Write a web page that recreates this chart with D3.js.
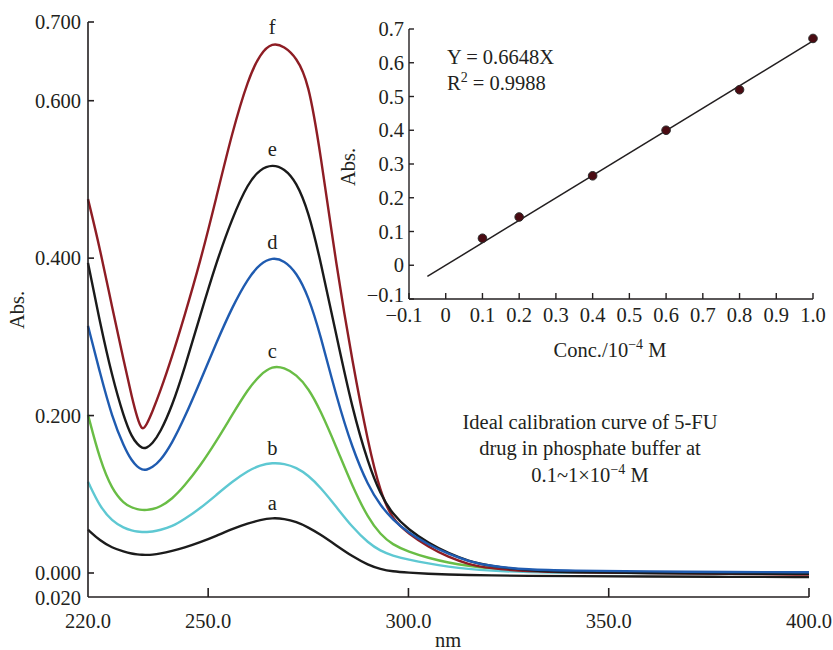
<!DOCTYPE html>
<html>
<head>
<meta charset="utf-8">
<script src="https://cdn.jsdelivr.net/npm/d3@7"></script>
<style>
  html, body { margin: 0; padding: 0; background: #fff; }
  svg text { font-family: "Liberation Serif", "Times New Roman", serif; fill: #231f20; }
</style>
</head>
<body>
<svg id="chart" width="833" height="650"></svg>
<script>
// ---------------- DATA ----------------
const wavelengths = [220, 223, 226, 229, 231, 232.3, 233.5, 234.7, 236, 238, 241, 244, 248, 252, 256, 260, 263, 266, 269, 272, 275, 278, 282, 286, 290, 293, 296, 300, 305, 310, 315, 320, 330, 340, 360, 380, 400];

const seriesA = [0.055, 0.041, 0.032, 0.027, 0.0245, 0.0235, 0.023, 0.023, 0.0232, 0.0245, 0.028, 0.032, 0.039, 0.047, 0.056, 0.063, 0.0675, 0.070, 0.069, 0.065, 0.058, 0.049, 0.035, 0.021, 0.010, 0.005, 0.002, 0.0005, -0.001, -0.002, -0.0027, -0.003, -0.0037, -0.004, -0.0045, -0.005, -0.005];
const seriesB = [0.116, 0.084, 0.066, 0.057, 0.054, 0.0525, 0.052, 0.052, 0.0525, 0.0545, 0.059, 0.068, 0.082, 0.099, 0.116, 0.130, 0.137, 0.140, 0.139, 0.134, 0.124, 0.109, 0.084, 0.058, 0.038, 0.028, 0.022, 0.017, 0.012, 0.008, 0.005, 0.003, 0.001, 0.000, 0.000, 0.000, 0.000];
const seriesC = [0.201, 0.143, 0.106, 0.088, 0.083, 0.081, 0.080, 0.080, 0.081, 0.084, 0.094, 0.110, 0.136, 0.167, 0.201, 0.234, 0.252, 0.263, 0.261, 0.252, 0.235, 0.207, 0.160, 0.110, 0.069, 0.049, 0.036, 0.027, 0.019, 0.013, 0.009, 0.006, 0.003, 0.001, 0.000, 0.000, 0.000];
const seriesD = [0.314, 0.254, 0.198, 0.160, 0.142, 0.135, 0.131, 0.131, 0.134, 0.142, 0.165, 0.196, 0.243, 0.292, 0.338, 0.375, 0.393, 0.401, 0.397, 0.382, 0.352, 0.303, 0.224, 0.158, 0.110, 0.086, 0.068, 0.051, 0.036, 0.024, 0.015, 0.009, 0.004, 0.003, 0.002, 0.001, 0.001];
const seriesE = [0.394, 0.318, 0.250, 0.197, 0.172, 0.164, 0.158, 0.159, 0.164, 0.178, 0.212, 0.258, 0.327, 0.394, 0.451, 0.496, 0.513, 0.519, 0.514, 0.497, 0.460, 0.398, 0.302, 0.208, 0.138, 0.100, 0.075, 0.055, 0.038, 0.025, 0.015, 0.009, 0.003, 0.001, 0.000, -0.001, -0.001];
const seriesF = [0.475, 0.412, 0.338, 0.268, 0.222, 0.197, 0.180, 0.189, 0.204, 0.230, 0.275, 0.325, 0.395, 0.476, 0.560, 0.628, 0.660, 0.674, 0.669, 0.655, 0.625, 0.535, 0.390, 0.268, 0.163, 0.102, 0.068, 0.050, 0.033, 0.020, 0.011, 0.006, 0.002, 0.001, 0.000, -0.001, -0.002];

const seriesNames = ["a", "b", "c", "d", "e", "f"];
const seriesColors = ["#1c1c1c", "#5ec8d2", "#69bd45", "#1f5bb0", "#1a1a1a", "#8e1d24"];
const drawOrder = [0, 2, 1, 5, 4, 3];

const xTickValues = [250, 300, 350, 400];
const xTickLabels = ["250.0", "300.0", "350.0", "400.0"];
const xStartLabel = "220.0";
const yTickValues = [0.7, 0.6, 0.4, 0.2, 0.0];
const yTickLabels = ["0.700", "0.600", "0.400", "0.200", "0.000"];
const yBottomLabel = "0.020";

// inset calibration data
const concValues = [0.1, 0.2, 0.4, 0.6, 0.8, 1.0];
const absValues = [0.080, 0.143, 0.265, 0.400, 0.520, 0.672];
const fitSlope = 0.6648;
const fitRange = [-0.05, 1.0];
const insetXTicks = [-0.1, 0, 0.1, 0.2, 0.3, 0.4, 0.5, 0.6, 0.7, 0.8, 0.9, 1.0];
const insetXLabels = ["\u22120.1", "0", "0.1", "0.2", "0.3", "0.4", "0.5", "0.6", "0.7", "0.8", "0.9", "1.0"];
const insetYTicks = [-0.1, 0, 0.1, 0.2, 0.3, 0.4, 0.5, 0.6, 0.7];
const insetYLabels = ["\u22120.1", "0", "0.1", "0.2", "0.3", "0.4", "0.5", "0.6", "0.7"];

// ---------------- DRAW ----------------
const svg = d3.select("#chart");
const FS = 20.5;
const SUP = 14;

const x = d3.scaleLinear().domain([220, 400]).range([88, 809]);
const y = d3.scaleLinear().domain([-0.0305, 0.7]).range([597, 22]);

const allSeries = [seriesA, seriesB, seriesC, seriesD, seriesE, seriesF];

const line = d3.line()
  .x(d => x(d[0]))
  .y(d => y(d[1]))
  .curve(d3.curveBasis);

drawOrder.forEach(i => {
  const vals = allSeries[i];
  const pts = wavelengths.map((w, j) => [w, vals[j]]);
  svg.append("path")
    .attr("d", line(pts))
    .attr("fill", "none")
    .attr("stroke", seriesColors[i])
    .attr("stroke-width", 2.4)
    .attr("stroke-linejoin", "round");
});
allSeries.forEach((vals, i) => {
  // label above the absorption peak
  let pk = wavelengths.indexOf(252);
  vals.forEach((v, j) => { if (wavelengths[j] > 250 && wavelengths[j] < 290 && v > vals[pk]) pk = j; });
  svg.append("text")
    .attr("x", x(wavelengths[pk]))
    .attr("y", y(vals[pk]) - 8)
    .attr("text-anchor", "middle")
    .attr("font-size", FS)
    .text(seriesNames[i]);
});

// main axes
const axG = svg.append("g").attr("stroke", "#231f20").attr("stroke-width", 1.6).attr("fill", "none");
axG.append("line").attr("x1", x(220)).attr("x2", x(220)).attr("y1", y(0.7)).attr("y2", y.range()[0]);
axG.append("line").attr("x1", x(220)).attr("x2", x(400)).attr("y1", y.range()[0]).attr("y2", y.range()[0]);
yTickValues.forEach(v => {
  axG.append("line").attr("x1", x(220)).attr("x2", x(220) + 6).attr("y1", y(v)).attr("y2", y(v));
});
xTickValues.forEach(v => {
  axG.append("line").attr("x1", x(v)).attr("x2", x(v)).attr("y1", y.range()[0]).attr("y2", y.range()[0] - 9);
});

yTickLabels.forEach((t, i) => {
  svg.append("text").attr("x", 81).attr("y", y(yTickValues[i])).attr("dy", "0.35em")
    .attr("text-anchor", "end").attr("font-size", FS).text(t);
});
svg.append("text").attr("x", 81).attr("y", y.range()[0] + 1).attr("dy", "0.35em")
  .attr("text-anchor", "end").attr("font-size", FS).text(yBottomLabel);
svg.append("text").attr("x", x(220)).attr("y", 628).attr("text-anchor", "middle").attr("font-size", FS).text(xStartLabel);
xTickLabels.forEach((t, i) => {
  svg.append("text").attr("x", x(xTickValues[i])).attr("y", 628).attr("text-anchor", "middle").attr("font-size", FS).text(t);
});
svg.append("text").attr("x", 448).attr("y", 647).attr("text-anchor", "middle").attr("font-size", FS).text("nm");
svg.append("text").attr("transform", "translate(24,310) rotate(-90)").attr("text-anchor", "middle").attr("font-size", FS).text("Abs.");

// annotation
const ann = svg.append("text").attr("text-anchor", "middle").attr("font-size", FS);
ann.append("tspan").attr("x", 590).attr("y", 429).text("Ideal calibration curve of 5-FU");
ann.append("tspan").attr("x", 590).attr("y", 455).text("drug in phosphate buffer at");
const l3 = ann.append("tspan").attr("x", 590).attr("y", 482);
l3.append("tspan").text("0.1~1\u00d710");
l3.append("tspan").attr("font-size", SUP).attr("dy", -8).text("\u22124");
l3.append("tspan").attr("dy", 8).text(" M");

// ---------------- INSET ----------------
const ix = d3.scaleLinear().domain([-0.1, 1.0]).range([409, 813]);
const iy = d3.scaleLinear().domain([-0.1, 0.7]).range([299, 29]);

const inG = svg.append("g").attr("stroke", "#231f20").attr("stroke-width", 1.4).attr("fill", "none");
inG.append("line").attr("x1", ix(-0.1)).attr("x2", ix(-0.1)).attr("y1", iy(0.7)).attr("y2", iy(-0.1));
inG.append("line").attr("x1", ix(-0.1)).attr("x2", ix(1.0)).attr("y1", iy(-0.1)).attr("y2", iy(-0.1));
insetYTicks.forEach(v => {
  inG.append("line").attr("x1", ix(-0.1)).attr("x2", ix(-0.1) + 5).attr("y1", iy(v)).attr("y2", iy(v));
});
insetXTicks.forEach(v => {
  inG.append("line").attr("x1", ix(v)).attr("x2", ix(v)).attr("y1", iy(-0.1)).attr("y2", iy(-0.1) - 6);
});
insetYLabels.forEach((t, i) => {
  svg.append("text").attr("x", 404).attr("y", iy(insetYTicks[i]) - (insetYTicks[i] < 0 ? 4 : 0)).attr("dy", "0.35em")
    .attr("text-anchor", "end").attr("font-size", FS).text(t);
});
insetXLabels.forEach((t, i) => {
  svg.append("text").attr("x", ix(insetXTicks[i])).attr("y", 322)
    .attr("dx", insetXTicks[i] < 0 ? -5 : 0)
    .attr("text-anchor", "middle").attr("font-size", FS).text(t);
});
const cl = svg.append("text").attr("x", 610).attr("y", 357).attr("text-anchor", "middle").attr("font-size", FS);
cl.append("tspan").text("Conc./10");
cl.append("tspan").attr("font-size", SUP).attr("dy", -8).text("\u22124");
cl.append("tspan").attr("dy", 8).text(" M");
svg.append("text").attr("transform", "translate(355,167) rotate(-90)").attr("text-anchor", "middle").attr("font-size", FS).text("Abs.");

// fit line
svg.append("line")
  .attr("x1", ix(fitRange[0])).attr("y1", iy(fitSlope * fitRange[0]))
  .attr("x2", ix(fitRange[1])).attr("y2", iy(fitSlope * fitRange[1]))
  .attr("stroke", "#231f20").attr("stroke-width", 1.5);
// points
svg.selectAll("circle.pt").data(concValues).enter().append("circle")
  .attr("class", "pt")
  .attr("cx", d => ix(d))
  .attr("cy", (d, i) => iy(absValues[i]))
  .attr("r", 4.3)
  .attr("fill", "#4a0b12")
  .attr("stroke", "#2a2a2a")
  .attr("stroke-width", 1);

// equation
svg.append("text").attr("x", 447).attr("y", 64).attr("font-size", FS).text("Y = 0.6648X");
const r2 = svg.append("text").attr("x", 447).attr("y", 90).attr("font-size", FS);
r2.append("tspan").text("R");
r2.append("tspan").attr("font-size", SUP).attr("dy", -8).text("2");
r2.append("tspan").attr("dy", 8).text(" = 0.9988");
</script>
</body>
</html>
